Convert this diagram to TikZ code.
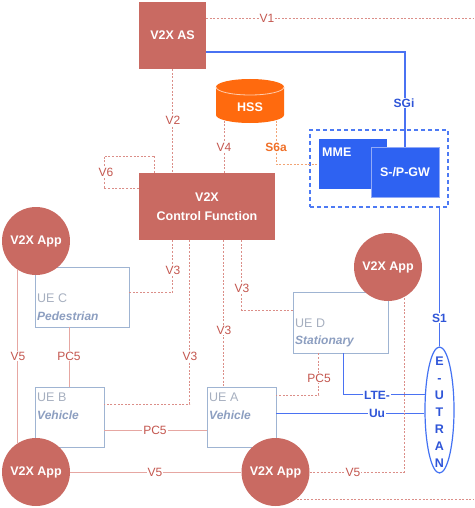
\documentclass[tikz,border=0pt]{standalone}
\usepackage{fontspec}
\setmainfont{Liberation Sans}
\usetikzlibrary{shapes.geometric,calc}
\definecolor{appred}{HTML}{C96A62}
\definecolor{labred}{HTML}{C4574F}
\definecolor{dashred}{HTML}{DB8E88}
\definecolor{solred}{HTML}{E6A7A2}
\definecolor{hssor}{HTML}{FF6A0E}
\definecolor{labor}{HTML}{F07028}
\definecolor{dashor}{HTML}{F2A474}
\definecolor{bluefill}{HTML}{2E62F2}
\definecolor{blueline}{HTML}{4A72F2}
\definecolor{bluetext}{HTML}{2F55D8}
\definecolor{ueborder}{HTML}{9FB4D2}
\definecolor{uetext}{HTML}{A6AFBF}
\definecolor{ueital}{HTML}{8C9EC0}
\begin{document}
\begin{tikzpicture}[x=1pt,y=-1pt,
  redbox/.style={fill=appred, text=white, font=\bfseries\fontsize{12.5}{19}\selectfont, align=center, inner sep=0pt},
  app/.style={circle, fill=appred, minimum size=68pt, inner sep=0pt, text=white, font=\bfseries\fontsize{12.5}{15}\selectfont},
  uebox/.style={draw=ueborder, line width=0.9pt, inner sep=0pt},
  uename/.style={anchor=west, text=uetext, font=\fontsize{12.5}{15}\selectfont, inner sep=0pt},
  uerole/.style={anchor=west, text=ueital, font=\bfseries\itshape\fontsize{12}{15}\selectfont, inner sep=0pt},
  lbl/.style={fill=white, text=labred, font=\fontsize{12}{14}\selectfont, inner sep=1pt},
  blbl/.style={fill=white, text=bluetext, font=\bfseries\fontsize{12}{14}\selectfont, inner sep=1pt},
  olbl/.style={fill=white, text=labor, font=\bfseries\fontsize{12}{14}\selectfont, inner sep=1pt},
  dred/.style={draw=dashred, line width=0.8pt, dash pattern=on 2pt off 1.6pt},
  dor/.style={draw=dashor, line width=0.8pt, dash pattern=on 2pt off 1.6pt},
  sred/.style={draw=solred, line width=1pt},
  sblue/.style={draw=blueline, line width=1.1pt},
  bluebox/.style={fill=bluefill, inner sep=0pt}
]
\useasboundingbox (0,0) rectangle (474,508);

% core nodes
\node[redbox, minimum width=67pt, minimum height=67pt] (as) at (172.5,35.5) {V2X AS};
\node[redbox, minimum width=136pt, minimum height=67pt] (cf) at (207,206.5) {V2X\\Control Function};

% HSS cylinder
\fill[hssor] (216,87) -- (216,115) arc[start angle=180, end angle=0, x radius=34, y radius=8] -- (284,87) arc[start angle=0, end angle=-180, x radius=34, y radius=8] -- cycle;
\draw[white!65!hssor, line width=0.8pt] (216,87) arc[start angle=180, end angle=0, x radius=34, y radius=8];
\node[text=white, font=\bfseries\fontsize{12.5}{15}\selectfont] (hss) at (250,107) {HSS};
\coordinate (hssv4) at (224,120.5);
\coordinate (hsss6) at (276,120.5);

% EPC
\node[draw=bluefill!85!white, line width=1.3pt, dash pattern=on 4pt off 3pt, minimum width=138pt, minimum height=77pt, inner sep=0pt] (epc) at (379,168.5) {};
\node[bluebox, minimum width=68pt, minimum height=50pt] (mme) at (353,164) {};
\node[anchor=west, text=white, font=\bfseries\fontsize{12.5}{15}\selectfont, inner sep=0pt] (mmet) at (322,152) {MME};
\node[bluebox, draw=blueline!60!white, line width=0.8pt, minimum width=68pt, minimum height=50pt, text=white, font=\bfseries\fontsize{12.5}{15}\selectfont] (sgw) at (405,172) {S-/P-GW};

% E-UTRAN
\node[ellipse, draw=bluefill!90!white, line width=1.2pt, fill=white, minimum width=29pt, minimum height=126pt, inner sep=0pt] (eutran) at (439.5,410) {};
\node[text=bluetext, align=center, font=\bfseries\fontsize{12.5}{17}\selectfont, inner sep=0pt] (eutrant) at (439.5,412) {E\\-\\U\\T\\R\\A\\N};

% UE boxes
\node[uebox, minimum width=94pt, minimum height=60pt] (uec) at (82,297) {};
\node[uebox, minimum width=69pt, minimum height=60pt] (ueb) at (69.5,417) {};
\node[uebox, minimum width=69pt, minimum height=60pt] (uea) at (241.5,417) {};
\node[uebox, minimum width=95pt, minimum height=61pt] (ued) at (340.5,322.5) {};
\node[uename] (uecn) at (37,298) {UE C};
\node[uerole] (uecr) at (37,316) {Pedestrian};
\node[uename] (uebn) at (37,397) {UE B};
\node[uerole] (uebr) at (37,415) {Vehicle};
\node[uename] (uean) at (209,397) {UE A};
\node[uerole] (uear) at (209,415) {Vehicle};
\node[uename] (uedn) at (295,323) {UE D};
\node[uerole] (uedr) at (295,341) {Stationary};

% apps
\node[app] (tl) at (36,241) {V2X App};
\node[app] (bl) at (36,472) {V2X App};
\node[app] (bm) at (275.5,472) {V2X App};
\node[app] (ra) at (388,267) {V2X App};

% anchor points
\coordinate (cfa) at ($(cf.south west)+(34,0)$);
\coordinate (cfb) at ($(cf.south west)+(51,0)$);
\coordinate (cfc) at ($(cf.south west)+(85,0)$);
\coordinate (cfd) at ($(cf.south west)+(103,0)$);
\coordinate (v6a) at ($(cf.north west)+(0,16)$);
\coordinate (v6b) at ($(cf.north west)+(16,0)$);
\coordinate (v6c) at (104,156);
\coordinate (uedpc) at ($(ued.south west)+(26,0)$);
\coordinate (uedlte) at ($(ued.south west)+(51,0)$);

% connectors
\coordinate (v1end) at (474,18);
\draw[dred] (as.east |- v1end) -- (v1end);
\coordinate (v1b) at (474,499);
\draw[dred] (bm.-52) -- (bm.-52 -| v1b);
\draw[sblue] (as.east |- 0,52) -| (sgw.north);
\draw[dred] (as.south) -- (as.south |- cf.north);
\draw[dred] (hssv4) -- (hssv4 |- cf.north);
\draw[dor] (hsss6) |- (mme.west);
\draw[dred] (v6a) -| (v6c) -| (v6b);
\draw[sblue] (epc.south -| eutran.north) -- (eutran.north);

\draw[dred] (cfa) |- (uec.east |- 0,292);
\draw[dred] (cfb) |- (ueb.east |- 0,404);
\draw[dred] (cfc) -- (cfc |- uea.north);
\draw[dred] (cfd) |- (ued.west |- 0,310);

\draw[dred] (uedpc) |- (uea.east |- 0,395);
\draw[sblue] (uedlte) |- (eutran.133);
\draw[sblue] (uea.east |- eutran.192) -- (eutran.192);

\draw[sred] (tl.238) -- (bl.122);
\draw[sred] (ueb.north |- uec.south) -- (ueb.north);
\draw[sred] (ueb.east |- 0,430) -- (uea.west |- 0,430);
\draw[sred] (bl.east) -- (bm.west);
\draw[dred] (bm.east) -| (ra.-62);

% labels
\node[lbl] (lv1) at (267,18) {V1};
\node[lbl] (lv2) at (173,120) {V2};
\node[lbl] (lv4) at (224,147) {V4};
\node[olbl] (ls6a) at (276,147) {S6a};
\node[lbl] (lv6) at (106,172) {V6};
\node[blbl] (lsgi) at (404,103) {SGi};
\node[blbl] (ls1) at (439.5,318) {S1};
\node[lbl] (lv3a) at (173,270) {V3};
\node[lbl] (lv3b) at (190,356) {V3};
\node[lbl] (lv3c) at (224,330) {V3};
\node[lbl] (lv3d) at (242,288) {V3};
\node[lbl] (lpc5d) at (319,378) {PC5};
\node[blbl] (llte) at (377,395) {LTE-};
\node[blbl] (luu) at (377,413) {Uu};
\node[lbl] (lv5a) at (18,356) {V5};
\node[lbl] (lpc5a) at (69,356) {PC5};
\node[lbl] (lpc5b) at (155,430) {PC5};
\node[lbl] (lv5b) at (155,472) {V5};
\node[lbl] (lv5c) at (353,472) {V5};
\end{tikzpicture}
\end{document}
